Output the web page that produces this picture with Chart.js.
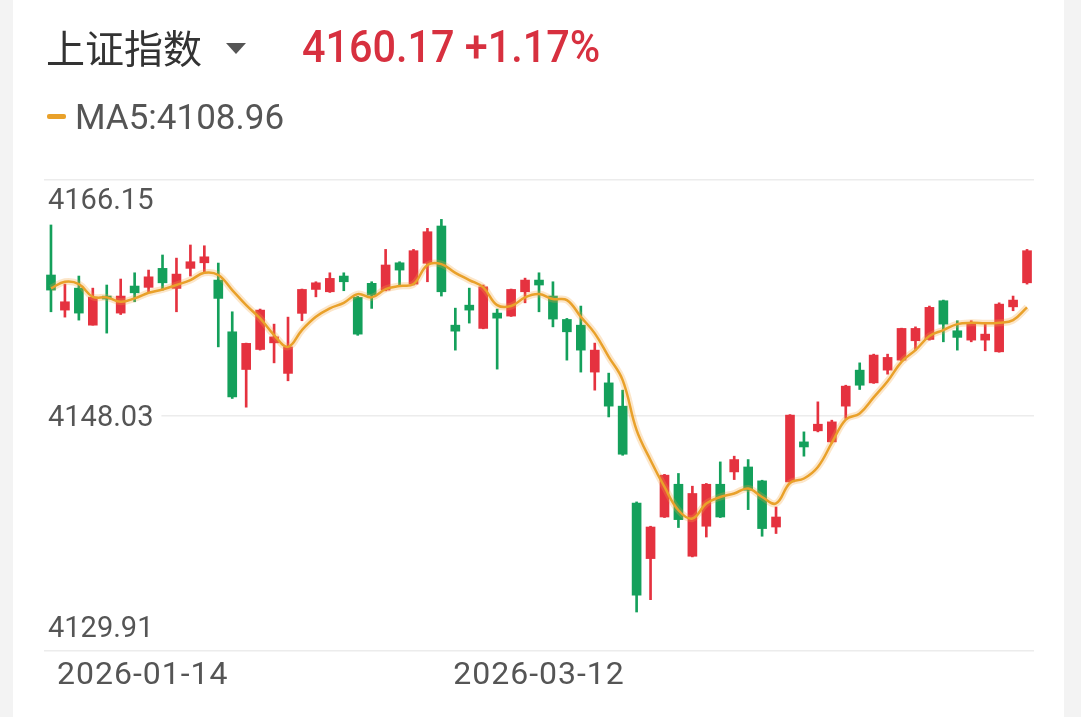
<!DOCTYPE html>
<html>
<head>
<meta charset="utf-8">
<script src="https://cdn.jsdelivr.net/npm/chart.js@4.4.1/dist/chart.umd.min.js"></script>
<style>
  html, body { margin:0; padding:0; }
  body { width:1081px; height:717px; background:#ffffff; position:relative; overflow:hidden; }
  #leftStrip { position:absolute; left:0; top:0; width:13px; height:717px; background:#f3f3f3; }
  #rightStrip { position:absolute; left:1064px; top:0; width:17px; height:717px; background:#f3f3f3; }
  #c { position:absolute; left:0; top:0; }
  .txt { position:absolute; white-space:nowrap; }
  #title { left:46px; top:19px; font:400 39px "Noto Sans CJK SC", sans-serif; color:#333; line-height:54px; }
  #tri { left:226px; top:43px; width:0; height:0; border-left:10px solid transparent; border-right:10px solid transparent; border-top:11px solid #555; }
  #price { left:302px; top:25px; font:500 44px Roboto, sans-serif; color:#D7303F; line-height:44px; transform:scaleX(0.94); transform-origin:left top; }
  #maDash { left:47px; top:114px; width:19px; height:5px; border-radius:2px; background:#E9A12A; }
  #maText { left:75px; top:100px; font:400 35px Roboto, sans-serif; color:#555; line-height:36px; }
</style>
</head>
<body>
<div id="leftStrip"></div>
<div id="rightStrip"></div>
<canvas id="c" width="1081" height="717"></canvas>
<div class="txt" id="title">上证指数</div>
<div class="txt" id="tri"></div>
<div class="txt" id="price">4160.17 +1.17%</div>
<div class="txt" id="maDash"></div>
<div class="txt" id="maText">MA5:4108.96</div>
<script>
// ---- data ----
const dates = [
  '2026-01-14','2026-01-15','2026-01-16','2026-01-19','2026-01-20','2026-01-21','2026-01-22','2026-01-23','2026-01-26','2026-01-27',
  '2026-01-28','2026-01-29','2026-01-30','2026-02-02','2026-02-03','2026-02-04','2026-02-05','2026-02-06','2026-02-09','2026-02-10',
  '2026-02-11','2026-02-12','2026-02-13','2026-02-24','2026-02-25','2026-02-26','2026-02-27','2026-03-02','2026-03-03','2026-03-04',
  '2026-03-05','2026-03-06','2026-03-09','2026-03-10','2026-03-11','2026-03-12','2026-03-13','2026-03-16','2026-03-17','2026-03-18',
  '2026-03-19','2026-03-20','2026-03-23','2026-03-24','2026-03-25','2026-03-26','2026-03-27','2026-03-30','2026-03-31','2026-04-01',
  '2026-04-02','2026-04-03','2026-04-07','2026-04-08','2026-04-09','2026-04-10','2026-04-13','2026-04-14','2026-04-15','2026-04-16',
  '2026-04-17','2026-04-20','2026-04-21','2026-04-22','2026-04-23','2026-04-24','2026-04-27','2026-04-28','2026-04-29','2026-04-30',
  '2026-05-06'
];
const opens = [
  4158.84,4156.14,4157.83,4154.98,4157.22,4155.91,4157.99,4157.89,4159.35,4157.81,
  4159.35,4159.78,4158.45,4154.47,4151.57,4153.11,4153.62,4151.27,4155.89,4157.73,
  4157.55,4158.76,4157.12,4158.20,4157.68,4159.78,4158.14,4159.74,4162.61,4154.98,
  4156.52,4154.73,4155.91,4155.68,4157.55,4158.45,4157.22,4155.42,4154.98,4151.37,
  4150.54,4148.75,4141.30,4137.02,4140.22,4142.74,4137.20,4139.51,4142.74,4143.69,
  4144.07,4143.00,4139.45,4142.92,4146.00,4146.85,4146.00,4148.75,4151.52,4150.54,
  4151.52,4152.29,4153.78,4153.88,4156.86,4154.55,4153.83,4153.83,4152.93,4156.39,
  4158.24
];
const closes = [
  4157.68,4156.78,4155.91,4157.14,4156.99,4157.22,4157.47,4158.70,4158.24,4158.91,
  4159.86,4160.24,4157.04,4149.46,4153.58,4156.14,4154.08,4153.31,4157.73,4158.24,
  4158.58,4158.32,4154.29,4157.29,4159.61,4159.22,4160.71,4162.17,4157.55,4154.52,
  4156.14,4157.93,4155.52,4157.73,4158.45,4158.07,4155.45,4154.47,4153.06,4153.06,
  4148.75,4145.05,4134.20,4139.45,4143.44,4140.02,4142.03,4142.74,4140.22,4144.64,
  4142.28,4139.33,4140.22,4148.06,4145.61,4147.36,4147.54,4150.29,4150.36,4152.68,
  4152.50,4154.73,4154.73,4156.35,4155.06,4154.04,4155.06,4154.29,4156.60,4156.91,
  4160.71
];
const highs = [
  4162.69,4158.14,4158.76,4157.83,4158.07,4158.53,4159.01,4159.22,4160.38,4160.14,
  4161.15,4161.09,4159.76,4156.01,4153.60,4156.22,4155.06,4155.60,4157.76,4158.32,
  4159.01,4159.01,4157.20,4158.32,4160.81,4159.86,4160.81,4162.43,4163.12,4156.29,
  4157.83,4158.07,4156.22,4157.76,4158.60,4159.01,4158.32,4155.50,4156.45,4153.60,
  4151.29,4149.98,4141.38,4139.51,4143.50,4143.57,4142.59,4142.80,4144.46,4144.90,
  4144.64,4143.05,4140.99,4148.10,4146.77,4149.08,4147.67,4150.36,4152.08,4152.75,
  4152.75,4154.75,4154.85,4156.45,4156.91,4155.32,4155.32,4155.06,4156.70,4157.22,
  4160.81
];
const lows = [
  4156.01,4155.60,4155.37,4154.98,4154.37,4155.80,4156.78,4157.53,4157.68,4156.01,
  4158.76,4158.99,4153.31,4149.34,4148.67,4153.06,4152.08,4150.70,4155.32,4157.16,
  4157.50,4157.63,4154.20,4156.27,4157.62,4158.07,4158.07,4158.32,4157.22,4153.06,
  4155.14,4154.70,4151.60,4155.65,4156.70,4156.01,4154.85,4152.29,4151.37,4149.98,
  4147.92,4144.97,4132.91,4133.86,4140.18,4139.41,4137.15,4138.68,4140.18,4143.10,
  4140.79,4138.74,4138.95,4142.88,4144.90,4146.77,4145.92,4147.80,4150.03,4150.50,
  4151.21,4152.25,4153.06,4153.83,4153.70,4153.06,4153.70,4153.01,4152.90,4156.09,
  4158.14
];
const ma5 = [
  4157.81,4158.32,4158.14,4157.16,4157.12,4156.78,4157.04,4157.47,4157.73,4158.07,
  4158.45,4159.01,4158.84,4157.68,4156.52,4155.50,4154.22,4153.31,4154.60,4155.62,
  4156.27,4156.70,4157.37,4157.12,4157.76,4157.99,4158.14,4159.61,4159.68,4159.01,
  4158.45,4157.89,4156.52,4156.45,4157.12,4157.37,4156.99,4156.91,4155.62,4154.35,
  4152.54,4150.75,4146.90,4144.59,4142.53,4140.74,4140.10,4141.26,4141.76,4142.03,
  4142.41,4141.76,4141.26,4142.84,4143.18,4144.07,4145.92,4147.72,4148.19,4149.42,
  4150.67,4152.16,4153.06,4154.14,4154.60,4155.06,4155.16,4155.12,4155.16,4155.37,
  4156.35
];
const yTickLabels = ['4129.91','4148.03','4166.15'];
const xTickLabels = ['2026-01-14','2026-03-12'];

// ---- derived structures for the library ----
const UP = '#E5323F', DOWN = '#14A05B';
const candleColors = opens.map((o, i) => closes[i] >= o ? UP : DOWN);
const wickData = lows.map((l, i) => [l, highs[i]]);
const bodyData = opens.map((o, i) => [Math.min(o, closes[i]), Math.max(o, closes[i])]);
const yTicks = yTickLabels.map(Number);

const labelPlugin = {
  id: 'axisLabels',
  afterDraw(chart) {
    const ctx = chart.ctx;
    const ys = chart.scales.y, xs = chart.scales.x;
    const area = chart.chartArea;
    ctx.save();
    ctx.font = '400 29px Roboto, sans-serif';
    ctx.fillStyle = '#555';
    ctx.textAlign = 'left';
    ctx.textBaseline = 'alphabetic';
    yTickLabels.forEach((t, i) => {
      const py = ys.getPixelForValue(yTicks[i]);
      let by;
      if (i === yTickLabels.length - 1) by = py + 29;      // top: below line
      else if (i === 0) by = py - 14;                     // bottom: above line
      else {                                               // middle: on line
        const w = ctx.measureText(t).width;
        ctx.fillStyle = '#fff';
        ctx.fillRect(area.left, py - 3, w + 12, 6);
        ctx.fillStyle = '#555';
        by = py + 10;
      }
      ctx.fillText(t, area.left + 4, by);
    });
    ctx.font = '400 32px Roboto, sans-serif';
    try { ctx.letterSpacing = '1px'; } catch (e) {}
    ctx.fillStyle = '#555';
    xTickLabels.forEach(t => {
      const idx = dates.indexOf(t);
      const px = xs.getPixelForValue(idx);
      const w = ctx.measureText(t).width;
      const left = Math.max(px - w / 2, area.left + 13);
      ctx.fillText(t, left, area.bottom + 33);
    });
    ctx.restore();
  }
};

new Chart(document.getElementById('c'), {
  type: 'bar',
  data: {
    labels: dates,
    datasets: [
      { type: 'line', label: 'MA5', data: ma5, borderColor: '#E9A12A', borderWidth: 2.5,
        tension: 0.4, pointRadius: 0, order: 0 },
      { type: 'line', label: 'MA5 glow', data: ma5, borderColor: 'rgba(245,165,60,0.28)', borderWidth: 7,
        tension: 0.4, pointRadius: 0, order: 1 },
      { label: 'body', data: bodyData, backgroundColor: candleColors, barThickness: 9,
        grouped: false, borderWidth: 0, order: 2 },
      { label: 'wick', data: wickData, backgroundColor: candleColors, barThickness: 2,
        grouped: false, borderWidth: 0, order: 3 }
    ]
  },
  options: {
    responsive: false,
    animation: false,
    devicePixelRatio: 1,
    layout: { padding: { left: 44, right: 47, top: 180, bottom: 66 } },
    plugins: { legend: { display: false }, tooltip: { enabled: false } },
    scales: {
      x: { type: 'category', offset: true, display: false },
      y: {
        min: yTicks[0], max: yTicks[yTicks.length - 1],
        afterBuildTicks: s => { s.ticks = yTicks.map(v => ({ value: v })); },
        ticks: { display: false },
        border: { display: false },
        grid: { color: '#ececec', lineWidth: 1.5, drawTicks: false }
      }
    }
  },
  plugins: [labelPlugin]
});
</script>
</body>
</html>
